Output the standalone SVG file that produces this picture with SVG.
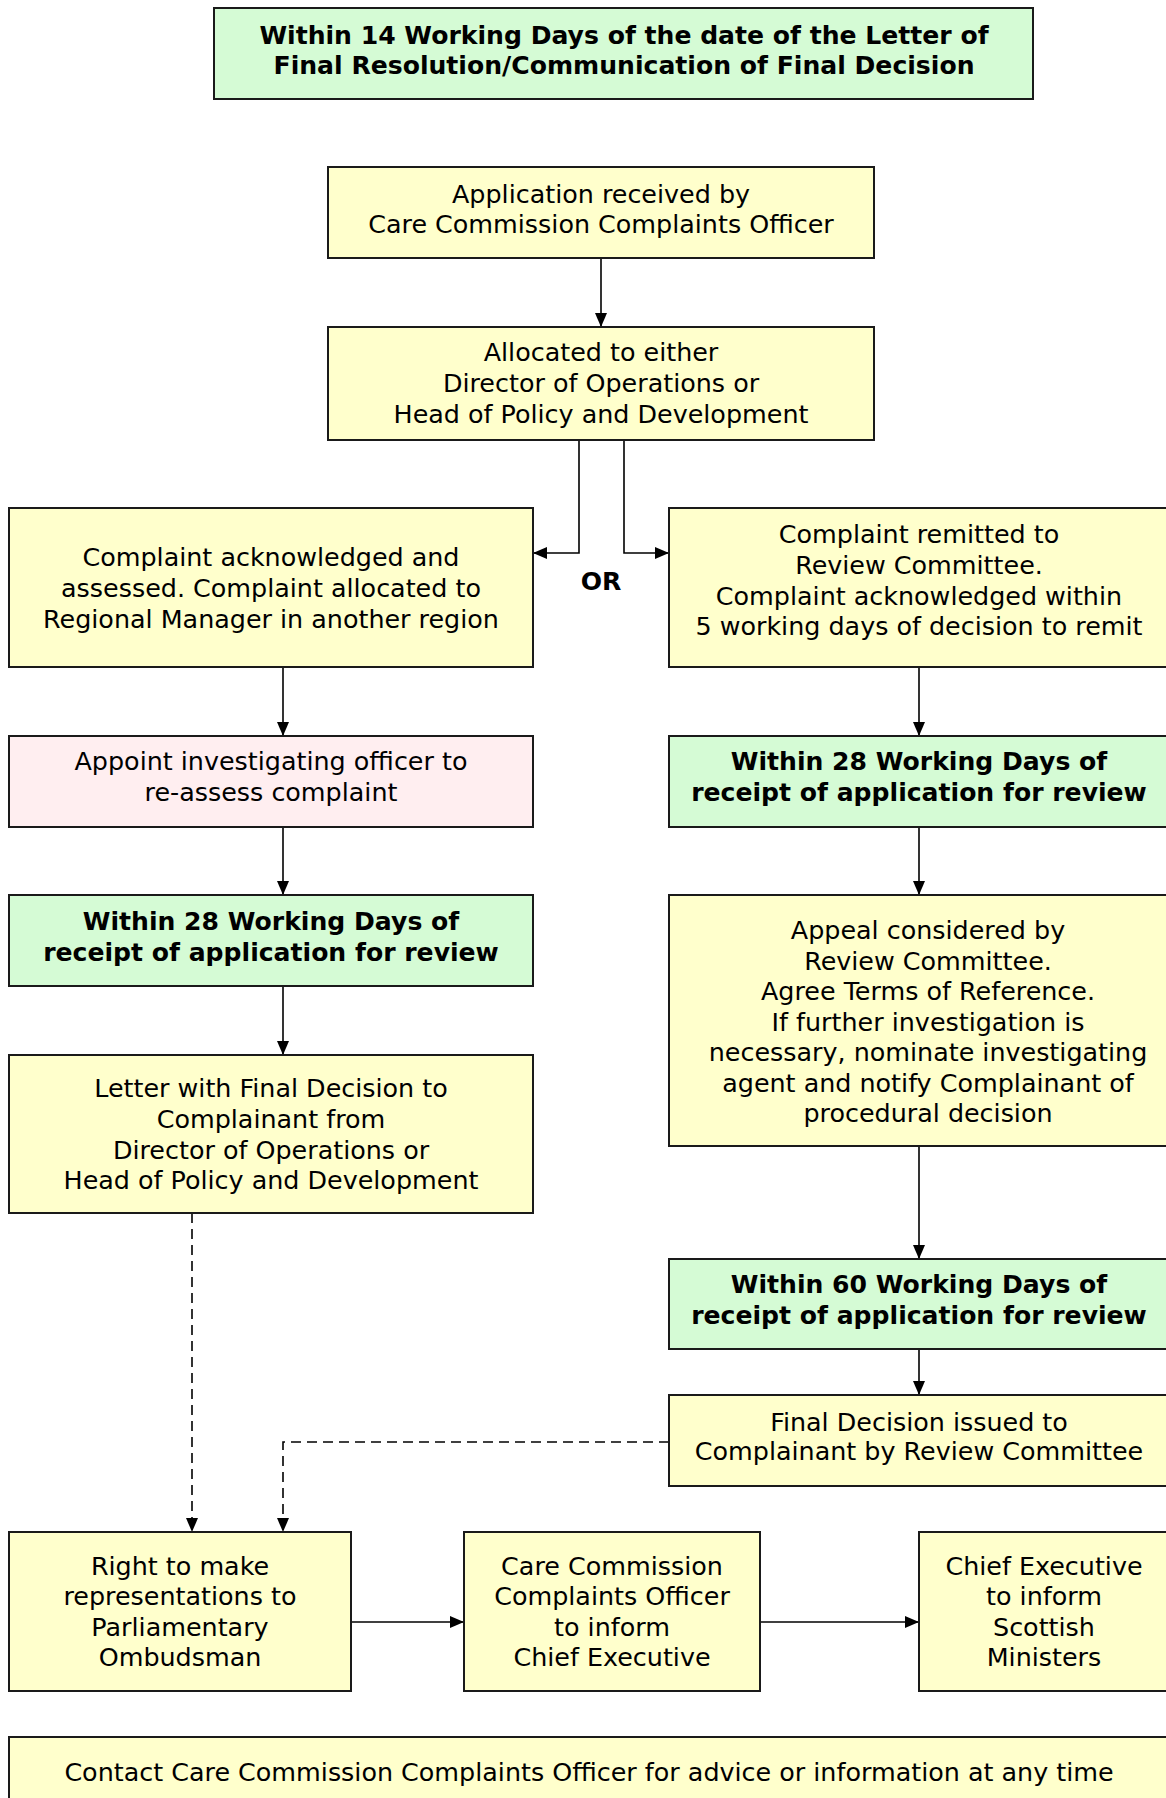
<svg xmlns="http://www.w3.org/2000/svg" width="1166" height="1798" viewBox="0 0 1166 1798">
<defs>
<style>
.box{stroke:#1a1a1a;stroke-width:2}
.y{fill:#ffffcc}
.g{fill:#d5fbd5}
.p{fill:#ffeef0}
text{font-family:"DejaVu Sans","Verdana",sans-serif;font-size:25.4px;fill:#000;text-anchor:middle}
.b{font-weight:bold;font-size:25.1px}
.c{fill:none;stroke:#000;stroke-width:1.6}
.d{stroke-dasharray:10 6}
</style>
<marker id="ah" markerUnits="userSpaceOnUse" markerWidth="14" markerHeight="12" refX="14" refY="6" orient="auto">
<path d="M0,0 L14,6 L0,12 Z" fill="#000"/>
</marker>
</defs>
<rect width="1166" height="1798" fill="#fff"/>
<g id="connectors">
<line class="c" x1="601" y1="258" x2="601" y2="327" marker-end="url(#ah)"/>
<polyline class="c" points="579,440 579,553 533,553" marker-end="url(#ah)"/>
<polyline class="c" points="624,440 624,553 669,553" marker-end="url(#ah)"/>
<line class="c" x1="283" y1="667" x2="283" y2="736" marker-end="url(#ah)"/>
<line class="c" x1="919" y1="667" x2="919" y2="736" marker-end="url(#ah)"/>
<line class="c" x1="283" y1="827" x2="283" y2="895" marker-end="url(#ah)"/>
<line class="c" x1="919" y1="827" x2="919" y2="895" marker-end="url(#ah)"/>
<line class="c" x1="283" y1="986" x2="283" y2="1055" marker-end="url(#ah)"/>
<line class="c" x1="919" y1="1146" x2="919" y2="1259" marker-end="url(#ah)"/>
<line class="c" x1="919" y1="1349" x2="919" y2="1395" marker-end="url(#ah)"/>
<line class="c d" x1="192" y1="1213" x2="192" y2="1532" marker-end="url(#ah)"/>
<polyline class="c d" points="669,1442 283,1442 283,1532" marker-end="url(#ah)"/>
<line class="c" x1="351" y1="1622" x2="464" y2="1622" marker-end="url(#ah)"/>
<line class="c" x1="760" y1="1622" x2="919" y2="1622" marker-end="url(#ah)"/>
<text class="b" x="601" y="590">OR</text>
</g>
<g id="n-top">
<rect class="box g" x="214" y="8" width="819" height="91"/>
<text class="b" x="624" y="44">Within 14 Working Days of the date of the Letter of</text>
<text class="b" x="624" y="74">Final Resolution/Communication of Final Decision</text>
</g>
<g id="n-application">
<rect class="box y" x="328" y="167" width="546" height="91"/>
<text x="601" y="203">Application received by</text>
<text x="601" y="233">Care Commission Complaints Officer</text>
</g>
<g id="n-allocated">
<rect class="box y" x="328" y="327" width="546" height="113"/>
<text x="601" y="361">Allocated to either</text>
<text x="601" y="392">Director of Operations or</text>
<text x="601" y="423">Head of Policy and Development</text>
</g>
<g id="n-acknowledged">
<rect class="box y" x="9" y="508" width="524" height="159"/>
<text x="271" y="566">Complaint acknowledged and</text>
<text x="271" y="597">assessed. Complaint allocated to</text>
<text x="271" y="628">Regional Manager in another region</text>
</g>
<g id="n-remitted">
<rect class="box y" x="669" y="508" width="520" height="159"/>
<text x="919" y="543">Complaint remitted to</text>
<text x="919" y="574">Review Committee.</text>
<text x="919" y="605">Complaint acknowledged within</text>
<text x="919" y="635">5 working days of decision to remit</text>
</g>
<g id="n-appoint">
<rect class="box p" x="9" y="736" width="524" height="91"/>
<text x="271" y="770">Appoint investigating officer to</text>
<text x="271" y="801">re-assess complaint</text>
</g>
<g id="n-within28-right">
<rect class="box g" x="669" y="736" width="520" height="91"/>
<text class="b" x="919" y="770">Within 28 Working Days of</text>
<text class="b" x="919" y="801">receipt of application for review</text>
</g>
<g id="n-within28-left">
<rect class="box g" x="9" y="895" width="524" height="91"/>
<text class="b" x="271" y="930">Within 28 Working Days of</text>
<text class="b" x="271" y="961">receipt of application for review</text>
</g>
<g id="n-appeal">
<rect class="box y" x="669" y="895" width="520" height="251"/>
<text x="928" y="939">Appeal considered by</text>
<text x="928" y="970">Review Committee.</text>
<text x="928" y="1000">Agree Terms of Reference.</text>
<text x="928" y="1031">If further investigation is</text>
<text x="928" y="1061">necessary, nominate investigating</text>
<text x="928" y="1092">agent and notify Complainant of</text>
<text x="928" y="1122">procedural decision</text>
</g>
<g id="n-letter">
<rect class="box y" x="9" y="1055" width="524" height="158"/>
<text x="271" y="1097">Letter with Final Decision to</text>
<text x="271" y="1128">Complainant from</text>
<text x="271" y="1159">Director of Operations or</text>
<text x="271" y="1189">Head of Policy and Development</text>
</g>
<g id="n-within60">
<rect class="box g" x="669" y="1259" width="520" height="90"/>
<text class="b" x="919" y="1293">Within 60 Working Days of</text>
<text class="b" x="919" y="1324">receipt of application for review</text>
</g>
<g id="n-final">
<rect class="box y" x="669" y="1395" width="520" height="91"/>
<text x="919" y="1431">Final Decision issued to</text>
<text x="919" y="1460">Complainant by Review Committee</text>
</g>
<g id="n-ombudsman">
<rect class="box y" x="9" y="1532" width="342" height="159"/>
<text x="180" y="1575">Right to make</text>
<text x="180" y="1605">representations to</text>
<text x="180" y="1636">Parliamentary</text>
<text x="180" y="1666">Ombudsman</text>
</g>
<g id="n-officer">
<rect class="box y" x="464" y="1532" width="296" height="159"/>
<text x="612" y="1575">Care Commission</text>
<text x="612" y="1605">Complaints Officer</text>
<text x="612" y="1636">to inform</text>
<text x="612" y="1666">Chief Executive</text>
</g>
<g id="n-chief">
<rect class="box y" x="919" y="1532" width="270" height="159"/>
<text x="1044" y="1575">Chief Executive</text>
<text x="1044" y="1605">to inform</text>
<text x="1044" y="1636">Scottish</text>
<text x="1044" y="1666">Ministers</text>
</g>
<g id="n-contact">
<rect class="box y" x="9" y="1737" width="1180" height="80"/>
<text x="589" y="1781">Contact Care Commission Complaints Officer for advice or information at any time</text>
</g>
</svg>
